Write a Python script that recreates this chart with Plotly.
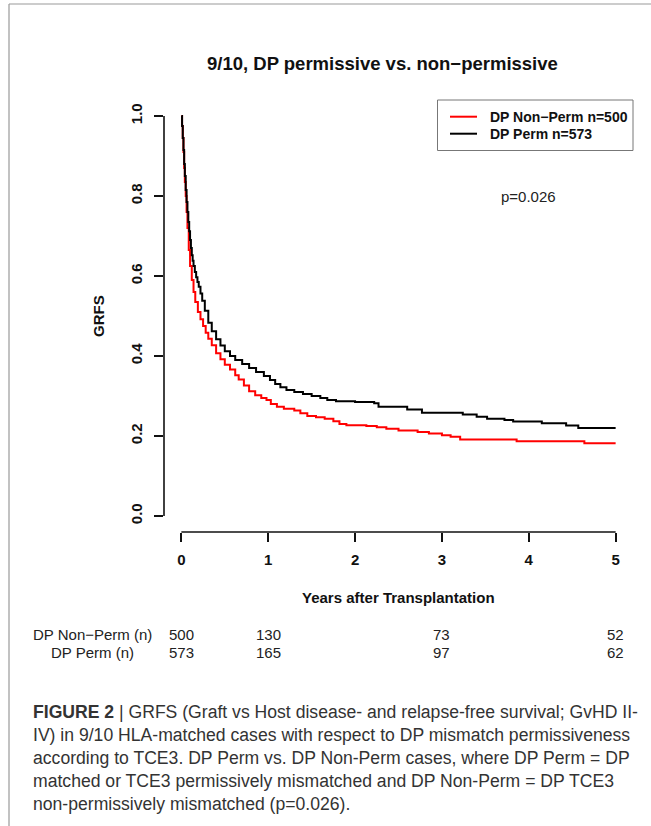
import plotly.graph_objects as go

# ---- data ----
nonperm_t = [0, 0.008, 0.016, 0.024, 0.032, 0.04, 0.05, 0.06, 0.07, 0.085, 0.10, 0.12, 0.14, 0.16, 0.19,
             0.22, 0.25, 0.28, 0.31, 0.35, 0.40, 0.45, 0.50, 0.56, 0.62, 0.66, 0.72, 0.78, 0.85,
             0.92, 0.98, 1.03, 1.10, 1.18, 1.30, 1.37, 1.45, 1.55, 1.65, 1.75, 1.82, 1.90, 2.13,
             2.25, 2.36, 2.50, 2.72, 2.85, 3.00, 3.10, 3.21, 3.86, 4.64, 5.0]
nonperm_s = [1.0, 0.975, 0.945, 0.91, 0.87, 0.835, 0.80, 0.76, 0.72, 0.665, 0.625, 0.59, 0.56, 0.535, 0.51,
             0.492, 0.475, 0.458, 0.443, 0.427, 0.407, 0.392, 0.378, 0.366, 0.352, 0.341, 0.326, 0.312, 0.302,
             0.295, 0.29, 0.28, 0.273, 0.268, 0.264, 0.257, 0.25, 0.247, 0.243, 0.237, 0.23, 0.227, 0.225,
             0.222, 0.218, 0.214, 0.21, 0.206, 0.202, 0.198, 0.191, 0.187, 0.182, 0.182]

perm_t = [0, 0.008, 0.016, 0.024, 0.032, 0.04, 0.05, 0.06, 0.07, 0.08, 0.09, 0.10, 0.11, 0.12, 0.13,
          0.14, 0.155, 0.17, 0.185, 0.20, 0.22, 0.24, 0.27, 0.31, 0.35, 0.40, 0.45, 0.50, 0.56, 0.62,
          0.70, 0.78, 0.86, 0.95, 1.02, 1.08, 1.14, 1.21, 1.30, 1.40, 1.50, 1.60, 1.68, 1.78, 2.00,
          2.22, 2.27, 2.60, 2.77, 3.24, 3.40, 3.52, 3.72, 3.82, 4.15, 4.43, 4.57, 5.0]
perm_s = [1.0, 0.975, 0.945, 0.915, 0.88, 0.85, 0.815, 0.785, 0.76, 0.735, 0.712, 0.69, 0.67, 0.652, 0.638,
          0.625, 0.61, 0.597, 0.585, 0.573, 0.556, 0.538, 0.513, 0.483, 0.462, 0.442, 0.426, 0.412, 0.40, 0.39,
          0.38, 0.37, 0.36, 0.35, 0.34, 0.33, 0.322, 0.315, 0.31, 0.305, 0.30, 0.295, 0.29, 0.287, 0.285,
          0.282, 0.273, 0.266, 0.258, 0.254, 0.248, 0.243, 0.24, 0.236, 0.232, 0.226, 0.22, 0.22]

x_ticks = [0, 1, 2, 3, 4, 5]
y_ticks = [0.0, 0.2, 0.4, 0.6, 0.8, 1.0]
y_ticklabels = ["0.0", "0.2", "0.4", "0.6", "0.8", "1.0"]

risk_times = [0, 1, 3, 5]
risk_nonperm = [500, 130, 73, 52]
risk_perm = [573, 165, 97, 62]
risk_labels = ["DP Non\u2212Perm (n)", "DP Perm (n)"]

series_names = ["DP Non\u2212Perm n=500", "DP Perm n=573"]
series_colors = ["#ff0000", "#000000"]

caption_lines = [
    "<b>FIGURE 2</b> | GRFS (Graft vs Host disease- and relapse-free survival; GvHD II-",
    "IV) in 9/10 HLA-matched cases with respect to DP mismatch permissiveness",
    "according to TCE3. DP Perm vs. DP Non-Perm cases, where DP Perm = DP",
    "matched or TCE3 permissively mismatched and DP Non-Perm = DP TCE3",
    "non-permissively mismatched (p=0.026).",
]

FONT = "Liberation Sans, Arial, Helvetica, sans-serif"

# ---- figure geometry (pixels) ----
W, H = 651, 826
L, R, T, B = 164, 18, 100, 294
PW, PH = W - L - R, H - T - B


def px_x(p):
    return (p - L) / PW


def px_y(p):
    return (H - B - p) / PH


fig = go.Figure()
for t, s, name, col in [(nonperm_t, nonperm_s, series_names[0], series_colors[0]),
                        (perm_t, perm_s, series_names[1], series_colors[1])]:
    fig.add_trace(go.Scatter(x=t, y=s, mode="lines", line_shape="hv",
                             line=dict(color=col, width=2), name=name, showlegend=False))

shapes = [
    # axis lines (R style: only span the tick range)
    dict(type="line", xref="paper", yref="y", x0=0, x1=0, y0=y_ticks[0], y1=y_ticks[-1],
         line=dict(color="#111", width=1.6)),
    dict(type="line", xref="x", yref="paper", x0=x_ticks[0], x1=x_ticks[-1], y0=0, y1=0,
         line=dict(color="#111", width=1.6)),
    # frame of the figure panel
    dict(type="line", xref="paper", yref="paper", x0=px_x(9), x1=px_x(9), y0=px_y(4), y1=px_y(H + 5),
         line=dict(color="#999", width=1.2)),
    dict(type="line", xref="paper", yref="paper", x0=px_x(9), x1=px_x(W + 5), y0=px_y(4), y1=px_y(4),
         line=dict(color="#999", width=1.2)),
    # legend box (R style, top right of the plot region)
    dict(type="rect", xref="paper", yref="paper", x0=px_x(437.5), x1=1, y0=px_y(150.5), y1=1,
         line=dict(color="#777", width=1), fillcolor="white", layer="above"),
]

ann = []
# legend entries
for i, (name, col) in enumerate(zip(series_names, series_colors)):
    yy = 116.7 + 17 * i
    shapes.append(dict(type="line", xref="paper", yref="paper", x0=px_x(450), x1=px_x(477),
                       y0=px_y(yy), y1=px_y(yy), line=dict(color=col, width=2), layer="above"))
    ann.append(dict(text="<b>" + name + "</b>", x=px_x(488), y=px_y(yy), xref="paper", yref="paper",
                    showarrow=False, xanchor="left", yanchor="middle",
                    font=dict(size=14, family=FONT, color="#111")))

ann.append(dict(text="<b>9/10, DP permissive vs. non\u2212permissive</b>", x=px_x(382), y=px_y(63),
                xref="paper", yref="paper", showarrow=False, xanchor="center", yanchor="middle",
                font=dict(size=18.5, family=FONT, color="#111")))
ann.append(dict(text="<b>Years after Transplantation</b>", x=0.5, y=px_y(597),
                xref="paper", yref="paper", showarrow=False, xanchor="center", yanchor="middle",
                font=dict(size=15, family=FONT, color="#111")))
ann.append(dict(text="<b>GRFS</b>", x=px_x(98), y=0.5, textangle=-90,
                xref="paper", yref="paper", showarrow=False, xanchor="center", yanchor="middle",
                font=dict(size=15, family=FONT, color="#111")))
ann.append(dict(text="p=0.026", x=px_x(528.5), y=px_y(196),
                xref="paper", yref="paper", showarrow=False, xanchor="center", yanchor="middle",
                font=dict(size=15, family=FONT, color="#222")))

# number-at-risk table
for row_y, label, vals in [(634, risk_labels[0], risk_nonperm), (652, risk_labels[1], risk_perm)]:
    ann.append(dict(text=label, x=px_x(92), y=px_y(row_y), xref="paper", yref="paper",
                    showarrow=False, xanchor="center", yanchor="middle",
                    font=dict(size=15, family=FONT, color="#222")))
    for t, v in zip(risk_times, vals):
        ann.append(dict(text=str(v), x=t, y=px_y(row_y), xref="x", yref="paper",
                        showarrow=False, xanchor="center", yanchor="middle",
                        font=dict(size=15, family=FONT, color="#222")))

# caption
for i, line in enumerate(caption_lines):
    ann.append(dict(text=line, x=px_x(31), y=px_y(712 + 23 * i), xref="paper", yref="paper",
                    showarrow=False, xanchor="left", yanchor="middle",
                    font=dict(size=17.6, family=FONT, color="#333")))

fig.update_layout(
    width=W, height=H,
    margin=dict(l=L, r=R, t=T, b=B, pad=0),
    paper_bgcolor="white", plot_bgcolor="white",
    font=dict(family=FONT, color="#111"),
    showlegend=False,
    shapes=shapes,
    annotations=ann,
)
fig.update_xaxes(range=[-0.2, 5.2], showgrid=False, zeroline=False, showline=False,
                 tickmode="array", tickvals=x_ticks, ticktext=[str(v) for v in x_ticks],
                 ticks="outside", ticklen=9, tickwidth=1.6, tickcolor="#111",
                 ticklabelstandoff=5,
                 tickfont=dict(size=15, family=FONT, color="#111", weight="bold"))
fig.update_yaxes(range=[-0.04, 1.04], showgrid=False, zeroline=False, showline=False,
                 tickmode="array", tickvals=y_ticks, ticktext=y_ticklabels, tickangle=-90,
                 ticks="outside", ticklen=9, tickwidth=1.6, tickcolor="#111",
                 ticklabelstandoff=6,
                 tickfont=dict(size=15, family=FONT, color="#111", weight="bold"))

fig.write_html("out.html", config={"displayModeBar": False},
               post_script="document.body.style.margin='0';")
